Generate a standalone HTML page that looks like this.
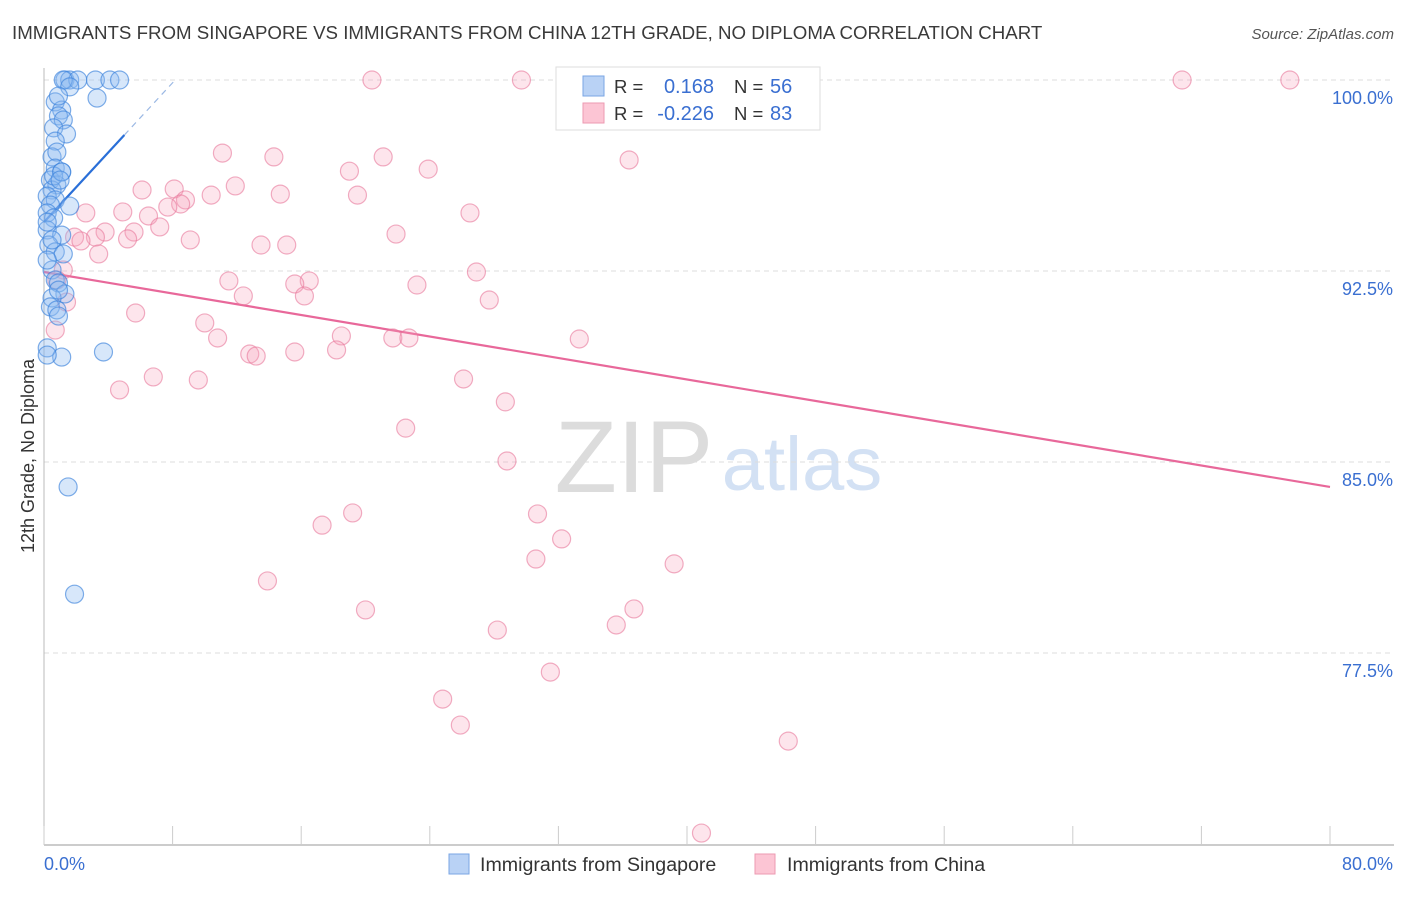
<!DOCTYPE html>
<html><head><meta charset="utf-8">
<style>
body{margin:0;background:#fff;font-family:"Liberation Sans",sans-serif;}
svg text{font-family:"Liberation Sans",sans-serif;}
</style></head>
<body>
<svg id="chart" width="1406" height="892" xmlns="http://www.w3.org/2000/svg">
<text x="12" y="39" font-size="18.7" fill="#3a3a3a">IMMIGRANTS FROM SINGAPORE VS IMMIGRANTS FROM CHINA 12TH GRADE, NO DIPLOMA CORRELATION CHART</text>
<text x="1394" y="39" font-size="15" fill="#555" font-style="italic" text-anchor="end">Source: ZipAtlas.com</text>
<text transform="translate(34,456) rotate(-90)" font-size="18" fill="#333" text-anchor="middle">12th Grade, No Diploma</text>
<g>
<text x="634" y="492" font-size="102" fill="#dcdcdc" font-family="Liberation Serif, serif" text-anchor="middle">ZIP</text>
<text x="802" y="490" font-size="76" fill="#d3e1f4" text-anchor="middle">atlas</text>
</g>
<g id="grid"></g>
<g id="axes"></g>
<g id="lines"></g>
<g id="points"></g>
<g>
<rect x="556" y="67" width="264" height="63" fill="#fff" stroke="#ddd"/>
<rect x="583" y="76" width="21" height="20" fill="#b9d2f5" stroke="#7aa6e4"/>
<rect x="583" y="103" width="21" height="20" fill="#fcc5d4" stroke="#ec9ab2"/>
<text x="614" y="93" font-size="18.5" fill="#333">R =</text>
<text x="714" y="93" font-size="20" fill="#3a6fd1" text-anchor="end">0.168</text>
<text x="734" y="93" font-size="18.5" fill="#333">N =</text>
<text x="770" y="93" font-size="20" fill="#3a6fd1">56</text>
<text x="614" y="120" font-size="18.5" fill="#333">R =</text>
<text x="714" y="120" font-size="20" fill="#3a6fd1" text-anchor="end">-0.226</text>
<text x="734" y="120" font-size="18.5" fill="#333">N =</text>
<text x="770" y="120" font-size="20" fill="#3a6fd1">83</text>
</g>
<g>
<rect x="449" y="854" width="20" height="20" fill="#b9d2f5" stroke="#7aa6e4"/>
<text x="480" y="871" font-size="19.6" fill="#333">Immigrants from Singapore</text>
<rect x="755" y="854" width="20" height="20" fill="#fcc5d4" stroke="#ec9ab2"/>
<text x="787" y="871" font-size="19.6" fill="#333">Immigrants from China</text>
</g>
</svg>
<script>
const yTicks=[100,92.5,85,77.5];
const yTickLabels=["100.0%","92.5%","85.0%","77.5%"];
const xTicks=[0,8,16,24,32,40,48,56,64,72,80];
const xTickLabels=["0.0%","80.0%"];
const sgX=[1.3,1.6,2.1,3.2,4.1,4.7,1.2,1.6,3.3,0.7,1.1,0.9,1.2,0.6,1.4,0.7,0.5,0.8,0.7,1.1,0.4,0.8,0.5,0.2,0.7,1.6,0.4,0.2,0.6,0.2,1.1,0.3,0.7,1.2,0.5,0.7,0.9,1.3,0.5,0.4,0.8,0.9,0.2,1.1,3.7,1.5,1.9,0.2,0.6,1.1,0.2,1.0,0.9,0.5,0.2,0.9];
const sgY=[100,100,100,100,100,100,100,99.73,99.29,99.14,98.82,98.59,98.43,98.12,97.88,97.60,96.98,97.17,96.54,96.39,96.07,95.88,95.68,95.44,95.29,95.05,95.09,94.78,94.58,94.11,93.91,93.52,93.25,93.17,92.54,92.15,92.03,91.60,91.44,91.09,90.97,90.73,89.48,89.12,89.32,84.02,79.81,89.20,96.23,96.39,94.42,96.07,99.37,93.72,92.93,91.75];
const cnX=[20.4,29.7,33.0,70.8,77.5,11.1,14.3,21.1,36.4,19.0,23.9,11.9,6.1,8.1,14.7,10.4,19.5,8.8,8.5,7.7,4.9,2.6,6.5,26.5,7.2,3.8,5.6,3.2,1.9,2.3,5.2,9.1,21.9,13.5,15.1,3.4,1.2,26.9,11.5,16.5,15.6,23.2,12.4,16.2,27.7,1.4,5.7,10.0,18.5,10.8,21.7,22.7,33.3,12.8,13.2,15.6,18.2,4.7,6.8,9.6,26.1,28.7,22.5,28.8,17.3,19.2,30.7,32.2,30.6,39.2,13.9,20.0,36.7,35.6,28.2,31.5,24.8,25.9,46.3,40.9,34.4,0.8,0.7];
const cnY=[100,100,100,100,100,97.13,96.98,96.98,96.86,96.42,96.50,95.84,95.68,95.72,95.52,95.48,95.48,95.29,95.13,95.01,94.82,94.78,94.66,94.78,94.23,94.03,94.03,93.83,93.83,93.68,93.76,93.72,93.95,93.52,93.52,93.17,92.54,92.46,92.11,92.11,91.99,91.95,91.52,91.52,91.36,91.28,90.85,90.46,89.95,89.87,89.87,89.87,89.83,89.24,89.16,89.32,89.40,87.83,88.34,88.22,88.26,87.36,86.33,85.04,82.52,83.00,82.96,81.98,81.19,81.00,80.33,79.19,79.23,78.60,78.40,76.75,75.69,74.67,74.04,70.43,99.33,92.15,90.18];
const sgLine=[94.42,0.684]; // intercept, slope
const cnLine=[92.46,-0.1055];
const NS="http://www.w3.org/2000/svg";
const X0=44,X1=1330,Y100=80;
function sx(v){return X0+(v/80)*(X1-X0);}
function sy(v){return Y100+(100-v)/7.5*191;}
function mk(tag,attrs,parent){const e=document.createElementNS(NS,tag);for(const k in attrs)e.setAttribute(k,attrs[k]);parent.appendChild(e);return e;}
const grid=document.getElementById('grid'),axes=document.getElementById('axes'),lines=document.getElementById('lines'),pts=document.getElementById('points');
yTicks.forEach((t,i)=>{
  const l=mk('line',{x1:X0,x2:1394,y1:sy(t),y2:sy(t),stroke:'#ddd','stroke-dasharray':'5,4'},grid);
  
  
  const tx=mk('text',{x:1393,y:sy(t)+24,'font-size':18,fill:'#3a6fd1','text-anchor':'end'},axes);
  tx.textContent=yTickLabels[i];
  
  
});
const ya=mk('line',{x1:X0,x2:X0,y1:68,y2:845,stroke:'#bbb'},axes);


const xa=mk('line',{x1:X0,x2:1394,y1:845,y2:845,stroke:'#bbb','stroke-width':1.5},axes);


xTicks.forEach(t=>{
  const l=mk('line',{x1:sx(t),x2:sx(t),y1:826,y2:845,stroke:'#ccc'},axes);
  
  
});
const xl0=mk('text',{x:44,y:870,'font-size':18,fill:'#3a6fd1'},axes);xl0.textContent=xTickLabels[0];


const xl1=mk('text',{x:1393,y:870,'font-size':18,fill:'#3a6fd1','text-anchor':'end'},axes);xl1.textContent=xTickLabels[1];


cnX.forEach((x,i)=>{
  const c=mk('circle',{cx:sx(x),cy:sy(cnY[i]),r:9,fill:'rgba(247,160,185,0.28)',stroke:'rgba(232,120,155,0.6)','stroke-width':1.2},pts);
  
  
});
sgX.forEach((x,i)=>{
  const c=mk('circle',{cx:sx(x),cy:sy(sgY[i]),r:9,fill:'rgba(140,185,240,0.35)',stroke:'rgba(60,130,220,0.65)','stroke-width':1.2},pts);
  
  
});
const cl=mk('line',{x1:sx(0),y1:sy(cnLine[0]),x2:sx(80),y2:sy(cnLine[0]+cnLine[1]*80),stroke:'#e8689a','stroke-width':2.2},lines);


const bl=mk('line',{x1:sx(0),y1:sy(sgLine[0]),x2:sx(5),y2:sy(sgLine[0]+sgLine[1]*5),stroke:'#2a6fd8','stroke-width':2.2},lines);


const xe=(100-sgLine[0])/sgLine[1];
const bd=mk('line',{x1:sx(5),y1:sy(sgLine[0]+sgLine[1]*5),x2:sx(xe),y2:sy(100),stroke:'#9bb8e4','stroke-width':1.2,'stroke-dasharray':'6,5'},lines);


</script>
</body></html>
